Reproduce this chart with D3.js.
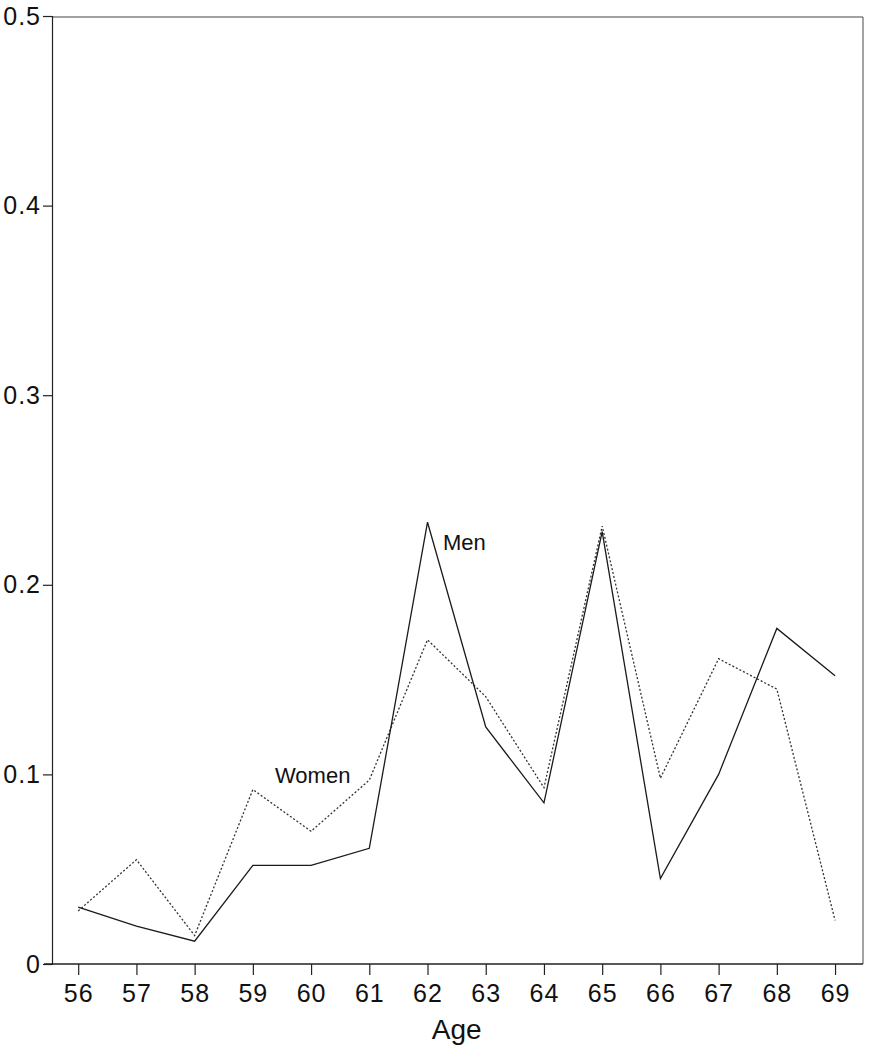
<!DOCTYPE html>
<html>
<head>
<meta charset="utf-8">
<script src="https://cdn.jsdelivr.net/npm/d3@7"></script>
<style>
  html, body { margin: 0; padding: 0; background: #fff; }
  svg text { font-family: "Liberation Sans", Arial, Helvetica, sans-serif; fill: #111; }
</style>
</head>
<body>
<svg id="chart" width="872" height="1048"></svg>
<script>
// Ages on the horizontal axis
const ages = [56, 57, 58, 59, 60, 61, 62, 63, 64, 65, 66, 67, 68, 69];
// Rates by single year of age
const menValues   = [0.030, 0.020, 0.012, 0.052, 0.052, 0.061, 0.233, 0.125, 0.085, 0.228, 0.045, 0.100, 0.177, 0.152];
const womenValues = [0.028, 0.055, 0.015, 0.092, 0.070, 0.097, 0.171, 0.141, 0.093, 0.231, 0.098, 0.161, 0.145, 0.023];
const yTicks = [0, 0.1, 0.2, 0.3, 0.4, 0.5];
const xTitle = "Age";

const svg = d3.select("#chart");
const plotLeft = 52, plotRight = 863, plotTop = 16, plotBottom = 964;

const x = d3.scaleLinear().domain([55.55, 69.48]).range([plotLeft, plotRight]);
const y = d3.scaleLinear().domain([0, 0.5]).range([plotBottom, plotTop]);

// Frame: top and right edges
svg.append("line").attr("x1", plotLeft).attr("x2", plotRight).attr("y1", plotTop + 1).attr("y2", plotTop + 1)
  .attr("stroke", "#444").attr("stroke-width", 1.2);
svg.append("line").attr("x1", plotRight).attr("x2", plotRight).attr("y1", plotTop + 1).attr("y2", plotBottom)
  .attr("stroke", "#666").attr("stroke-width", 1.2);

// Y axis
const yAxis = svg.append("g").attr("transform", `translate(${plotLeft},0)`)
  .call(d3.axisLeft(y).tickValues(yTicks).tickSize(9).tickPadding(2)
    .tickFormat(d => d === 0 ? "0" : d3.format(".1f")(d)));
yAxis.select(".domain").attr("stroke", "#222").attr("stroke-width", 1.2);
yAxis.selectAll(".tick line").attr("stroke", "#222").attr("stroke-width", 1.2);
yAxis.selectAll(".tick text").attr("font-size", 25).attr("fill", "#1a1a1a")
  .attr("letter-spacing", 1)
  .attr("font-family", "Liberation Sans, Arial, sans-serif");

// X axis
const xAxis = svg.append("g").attr("transform", `translate(0,${plotBottom})`)
  .call(d3.axisBottom(x).tickValues(ages).tickSize(11).tickPadding(9).tickFormat(d3.format("d")));
xAxis.select(".domain").attr("d", `M${plotLeft - 8},0H${plotRight}`).attr("stroke", "#222").attr("stroke-width", 1.4);
xAxis.selectAll(".tick line").attr("stroke", "#222").attr("stroke-width", 1.2);
xAxis.selectAll(".tick text").attr("font-size", 25).attr("fill", "#1a1a1a")
  .attr("letter-spacing", 1)
  .attr("font-family", "Liberation Sans, Arial, sans-serif");

svg.append("text").attr("x", x(62.5)).attr("y", 1039).attr("text-anchor", "middle")
  .attr("font-size", 28).attr("fill", "#1a1a1a").text(xTitle);

// Series lines
const line = d3.line().x((d, i) => x(ages[i])).y(d => y(d));

svg.append("path").datum(womenValues).attr("d", line)
  .attr("fill", "none").attr("stroke", "#333").attr("stroke-width", 1.3)
  .attr("stroke-dasharray", "2,2");

svg.append("path").datum(menValues).attr("d", line)
  .attr("fill", "none").attr("stroke", "#1a1a1a").attr("stroke-width", 1.3)
  .attr("stroke-linejoin", "miter");

// Series labels
svg.append("text").attr("x", 443).attr("y", 550).attr("font-size", 22).attr("fill", "#1a1a1a").text("Men");
svg.append("text").attr("x", 275).attr("y", 783).attr("font-size", 22).attr("fill", "#1a1a1a").text("Women");
</script>
</body>
</html>
